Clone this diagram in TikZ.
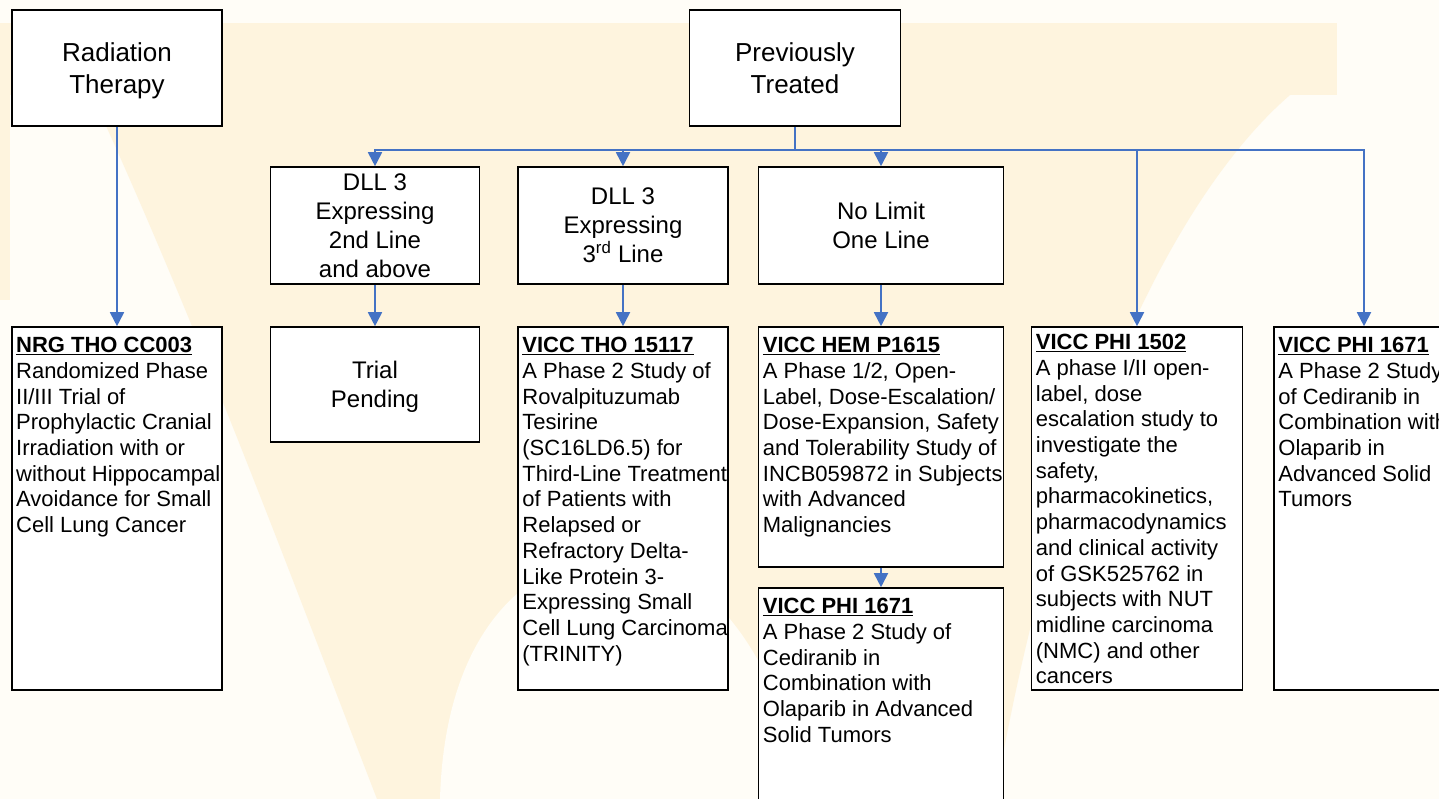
\documentclass[tikz,border=0pt]{standalone}
\usepackage{fontspec}
\setmainfont{Liberation Sans}
\usepackage{xcolor}
\usetikzlibrary{arrows.meta, positioning}

\definecolor{linkblue}{RGB}{68,114,196}
\definecolor{cream}{RGB}{254,244,222}
\definecolor{paper}{RGB}{255,253,247}

\begin{document}
\begin{tikzpicture}[
  x=1pt, y=-1pt,
  topbox/.style={draw, fill=white, line width=1.6pt, align=center,
                 minimum width=210pt, minimum height=116pt, text depth=0pt,
                 font=\fontsize{26}{32}\selectfont},
  midbox/.style={draw, fill=white, line width=1.6pt, align=center,
                 minimum height=117pt, text depth=0pt,
                 font=\fontsize{24}{29}\selectfont},
  studybox/.style={draw, fill=white, line width=1.6pt, minimum height=363pt},
  studytext/.style={anchor=north west, align=left, inner xsep=5pt,
                    inner ysep=11pt, font=\fontsize{22}{25.7}\selectfont},
  link/.style={draw=linkblue, line width=1.8pt,
               -{Triangle[width=14pt,length=14pt]}}
]
  \useasboundingbox (0,0) rectangle (1439,799);
  \clip (0,0) rectangle (1439,799);
  % faint V watermark
  \fill[paper] (0,0) rectangle (1439,799);
  \fill[cream] (0,23) rectangle (1337,95);
  \fill[cream] (92,95) -- (1290,95)
    .. controls (1180,190) and (1060,420) .. (995,799)
    -- (377,799) .. controls (300,600) and (200,330) .. cycle;
  \fill[paper] (440,799) .. controls (445,620) and (540,545) .. (640,555)
    .. controls (740,590) and (790,700) .. (800,799) -- cycle;
  \fill[cream] (0,95) rectangle (10,300);

  % Top level
  \node[topbox, minimum width=210.5pt] (rad) at (117,68) {Radiation\\Therapy};
  \node[topbox, minimum width=211pt] (prev) at (795,68) {Previously\\Treated};
  \coordinate (bus) at (795,150);

  % Second level
  \node[midbox, minimum width=209pt] (dll2) at (375,225.5)
    {DLL 3\\Expressing\\2nd Line\\and above};
  \node[midbox, minimum width=210pt] (dll3) at (623,225.5)
    {DLL 3\\Expressing\\3\textsuperscript{rd} Line};
  \node[midbox, minimum width=245pt] (nolim) at (881,225.5)
    {No Limit\\One Line};

  % Studies
  \node[studybox, minimum width=210.5pt] (nrg) at (117,508.5) {};
  \node[studytext] (nrgtext) at (nrg.north west)
    {\underline{\textbf{NRG THO CC003}}\\Randomized Phase\\II/III Trial of\\
     Prophylactic Cranial\\Irradiation with or\\without Hippocampal\\
     Avoidance for Small\\Cell Lung Cancer};
  \node[midbox, minimum width=209pt, minimum height=115pt] (pend) at (375,384.5)
    {Trial\\Pending};
  \node[studybox, minimum width=210pt] (tho) at (623,508.5) {};
  \node[studytext] (thotext) at (tho.north west)
    {\underline{\textbf{VICC THO 15117}}\\A Phase 2 Study of\\Rovalpituzumab\\
     Tesirine\\(SC16LD6.5) for\\Third-Line Treatment\\of Patients with\\
     Relapsed or\\Refractory Delta-\\Like Protein 3-\\Expressing Small\\
     Cell Lung Carcinoma\\(TRINITY)};
  \node[studybox, minimum width=245pt, minimum height=240pt] (hem) at (881,447) {};
  \node[studytext] (hemtext) at (hem.north west)
    {\underline{\textbf{VICC HEM P1615}}\\A Phase 1/2, Open-\\
     Label, Dose-Escalation/\\Dose-Expansion, Safety\\
     and Tolerability Study of\\INCB059872 in Subjects\\with Advanced\\
     Malignancies};
  \node[studybox, minimum width=245pt, minimum height=260pt] (phiC) at (881,718) {};
  \node[studytext] (phiCtext) at (phiC.north west)
    {\underline{\textbf{VICC PHI 1671}}\\A Phase 2 Study of\\Cediranib in\\
     Combination with\\Olaparib in Advanced\\Solid Tumors};
  \node[studybox, minimum width=211pt] (phiA) at (1137,508.5) {};
  \node[studytext, inner ysep=8pt] (phiAtext) at (phiA.north west)
    {\underline{\textbf{VICC PHI 1502}}\\A phase I/II open-\\label, dose\\
     escalation study to\\investigate the\\safety,\\pharmacokinetics,\\
     pharmacodynamics\\and clinical activity\\of GSK525762 in\\
     subjects with NUT\\midline carcinoma\\(NMC) and other\\cancers};
  \node[studybox, minimum width=210pt] (phiB) at (1379,508.5) {};
  \node[studytext] (phiBtext) at (phiB.north west)
    {\underline{\textbf{VICC PHI 1671}}\\A Phase 2 Study\\of Cediranib in\\
     Combination with\\Olaparib in\\Advanced Solid\\Tumors};

  % Connectors
  \draw[link] (rad) -- (nrg);
  \draw[link, -] (prev) -- (bus);
  \foreach \t in {dll2,dll3,nolim,phiA}
    \draw[link] (bus) -| (\t);
  \draw[link] (bus) -| ([xshift=-15pt]phiB.north);
  \draw[link] (dll2) -- (pend);
  \draw[link] (dll3) -- (tho);
  \draw[link] (nolim) -- (hem);
  \draw[link] (hem) -- (phiC);
\end{tikzpicture}
\end{document}
